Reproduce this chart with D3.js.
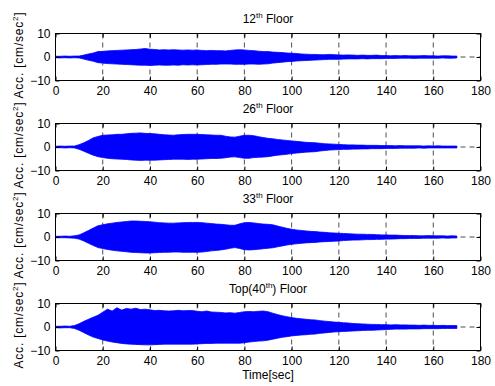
<!DOCTYPE html>
<html><head><meta charset="utf-8">
<script src="https://cdn.jsdelivr.net/npm/d3@7"></script>
<style>
html,body{margin:0;padding:0;background:#fff;}
svg{display:block;font-family:Arial,"Liberation Sans",sans-serif;}
</style></head>
<body>
<svg id="chart" width="495" height="386"></svg>
<script>
// ---- data ----
const time = [0,2,4,6,8,10,12,14,16,18,20,22,24,26,28,30,32,34,36,38,40,42,44,46,48,50,52,54,56,58,60,62,64,66,68,70,72,74,76,78,80,82,84,86,88,90,92,94,96,98,100,102,104,106,108,110,112,114,116,118,120,122,124,126,128,130,132,134,136,138,140,142,144,146,148,150,152,154,156,158,160,162,164,166,168,170];

const up12 = [0.3,0.3,0.4,0.3,0.4,0.4,0.8,1.3,1.7,2.3,2.4,2.6,2.7,2.8,2.9,3.0,3.1,3.2,3.4,3.6,3.3,3.2,3.0,3.1,3.0,3.1,3.0,2.9,3.0,2.9,3.0,2.8,2.7,2.8,2.7,2.7,2.6,2.8,3.0,3.1,3.0,2.8,2.7,2.5,2.3,2.3,2.1,2.0,1.9,1.7,1.6,1.5,1.3,1.2,1.1,1.1,1.0,1.0,1.1,1.0,0.9,0.8,0.9,0.8,0.7,0.8,0.7,0.7,0.8,0.6,0.6,0.5,0.6,0.5,0.6,0.5,0.5,0.5,0.6,0.5,0.5,0.4,0.5,0.5,0.4,0.4];
const lo12 = [-0.3,-0.4,-0.3,-0.4,-0.3,-0.4,-0.9,-1.4,-1.8,-2.4,-2.6,-2.8,-2.9,-3.0,-3.1,-3.2,-3.3,-3.4,-3.5,-3.5,-3.6,-3.5,-3.4,-3.5,-3.5,-3.4,-3.5,-3.3,-3.4,-3.3,-3.4,-3.3,-3.2,-3.1,-3.1,-3.0,-3.0,-3.0,-3.1,-3.1,-3.1,-3.0,-3.0,-3.1,-3.0,-2.9,-2.6,-2.4,-2.2,-2.0,-1.9,-1.7,-1.6,-1.5,-1.4,-1.3,-1.2,-1.1,-1.0,-1.0,-1.0,-0.9,-0.8,-0.8,-0.8,-0.7,-0.8,-0.7,-0.7,-0.7,-0.6,-0.6,-0.6,-0.5,-0.5,-0.5,-0.6,-0.5,-0.5,-0.5,-0.5,-0.5,-0.4,-0.5,-0.5,-0.4];

const up26 = [0.3,0.4,0.3,0.4,0.4,1.0,1.8,2.8,3.9,4.5,5.0,5.1,5.2,5.4,5.4,5.6,5.8,5.9,6.0,5.8,5.7,5.6,5.4,5.2,5.1,5.0,5.2,5.3,5.4,5.4,5.4,5.3,5.2,5.1,5.0,5.0,4.6,4.3,4.2,4.6,5.0,5.0,4.8,4.4,4.0,3.7,3.5,3.2,3.0,2.8,2.6,2.4,2.2,2.0,1.9,1.8,1.6,1.4,1.3,1.2,1.1,1.0,0.9,0.9,0.8,0.8,0.7,0.7,0.7,0.6,0.6,0.6,0.5,0.6,0.5,0.5,0.5,0.5,0.4,0.5,0.4,0.5,0.4,0.4,0.4,0.4];
const lo26 = [-0.3,-0.3,-0.4,-0.3,-0.4,-1.0,-1.8,-2.7,-3.5,-4.1,-4.5,-4.8,-5.0,-5.1,-5.2,-5.3,-5.5,-5.6,-5.7,-5.6,-5.6,-5.6,-5.5,-5.4,-5.3,-5.2,-5.2,-5.2,-5.3,-5.2,-5.2,-5.1,-5.0,-4.9,-4.9,-4.8,-4.6,-4.3,-4.2,-4.5,-4.8,-4.8,-4.5,-4.4,-4.3,-4.1,-3.8,-3.5,-3.3,-3.1,-2.8,-2.6,-2.4,-2.2,-2.1,-2.0,-1.7,-1.5,-1.3,-1.2,-1.1,-1.0,-1.0,-0.9,-0.9,-0.8,-0.8,-0.7,-0.7,-0.7,-0.6,-0.6,-0.6,-0.5,-0.5,-0.5,-0.5,-0.4,-0.5,-0.4,-0.4,-0.4,-0.4,-0.4,-0.4,-0.4];

const up33 = [0.3,0.3,0.4,0.3,0.5,0.9,1.8,2.8,3.8,4.8,5.2,5.6,5.9,6.2,6.4,6.6,6.8,6.8,6.7,6.6,6.5,6.3,6.1,6.0,5.9,5.9,6.0,6.1,6.2,6.2,6.2,6.1,5.9,5.7,5.5,5.4,5.2,5.0,5.0,5.6,6.1,6.2,6.0,5.7,5.5,5.4,5.2,4.7,4.2,3.7,3.3,3.0,2.8,2.6,2.4,2.3,2.1,2.0,1.8,1.7,1.6,1.5,1.4,1.3,1.2,1.2,1.1,1.1,1.0,0.9,0.9,0.8,0.8,0.7,0.6,0.6,0.6,0.5,0.5,0.6,0.5,0.5,0.5,0.4,0.5,0.4];
const lo33 = [-0.3,-0.3,-0.3,-0.4,-0.5,-0.9,-1.7,-2.7,-3.6,-4.5,-4.9,-5.3,-5.6,-5.9,-6.1,-6.3,-6.5,-6.6,-6.7,-6.8,-6.8,-6.7,-6.6,-6.5,-6.5,-6.4,-6.4,-6.5,-6.5,-6.5,-6.5,-6.4,-6.2,-5.9,-5.7,-5.5,-5.2,-4.8,-4.5,-4.9,-5.4,-5.5,-5.4,-5.2,-5.0,-4.8,-4.6,-4.2,-3.8,-3.4,-3.1,-2.9,-2.7,-2.5,-2.4,-2.3,-2.1,-2.0,-1.9,-1.8,-1.7,-1.5,-1.4,-1.3,-1.3,-1.2,-1.1,-1.1,-1.0,-1.0,-0.9,-0.9,-0.8,-0.7,-0.7,-0.6,-0.6,-0.6,-0.5,-0.5,-0.5,-0.5,-0.4,-0.5,-0.4,-0.4];

const up40 = [0.3,0.3,0.4,0.3,0.6,1.4,2.4,3.3,4.2,5.0,6.3,7.6,6.8,8.2,7.2,7.9,7.6,8.0,7.4,7.6,7.3,7.0,7.1,6.9,6.8,6.9,7.1,6.9,7.0,7.0,6.7,6.5,6.8,6.4,6.3,6.2,6.0,6.1,5.9,6.2,6.5,6.6,6.5,6.7,6.8,6.5,5.9,5.3,4.8,4.4,4.0,3.7,3.5,3.3,3.1,3.0,2.7,2.5,2.3,2.1,2.0,1.8,1.7,1.5,1.4,1.3,1.2,1.1,1.1,1.0,1.0,0.9,1.0,0.9,0.9,0.8,0.8,0.7,0.8,0.7,0.7,0.6,0.7,0.6,0.6,0.6];
const lo40 = [-0.3,-0.4,-0.3,-0.3,-0.6,-1.4,-2.4,-3.4,-4.3,-4.9,-5.5,-6.0,-6.4,-6.7,-7.0,-7.2,-7.3,-7.4,-7.5,-7.6,-7.6,-7.5,-7.4,-7.3,-7.3,-7.3,-7.3,-7.3,-7.3,-7.3,-7.2,-7.1,-7.0,-7.0,-6.9,-6.9,-6.9,-6.9,-6.9,-6.9,-6.7,-6.4,-6.2,-6.0,-5.9,-5.6,-5.2,-4.8,-4.4,-4.1,-3.8,-3.6,-3.4,-3.3,-3.1,-3.0,-2.7,-2.5,-2.3,-2.1,-2.0,-1.9,-1.8,-1.7,-1.6,-1.5,-1.4,-1.4,-1.3,-1.2,-1.1,-1.0,-0.9,-0.9,-0.9,-0.8,-0.8,-0.8,-0.7,-0.7,-0.7,-0.7,-0.6,-0.6,-0.6,-0.6];

const titleMain = ["12", "26", "33", "Top(40"];
const titleTail = [" Floor", " Floor", " Floor", ") Floor"];
const upper = [up12, up26, up33, up40];
const lower = [lo12, lo26, lo33, lo40];
const xTicks = [0,20,40,60,80,100,120,140,160,180];
const yTicks = [-10,0,10];
const xLabel = "Time[sec]";

// ---- layout ----
const svg = d3.select("#chart");
const left = 55.5, right = 480.5;
const tops = [33.5, 123.5, 213.5, 303.5];
const ph = 47;
const x = d3.scaleLinear().domain([0,180]).range([left, right]);
const FONT = 12;

tops.forEach((top, i) => {
  const y = d3.scaleLinear().domain([-10,10]).range([top + ph, top]);
  const g = svg.append("g");

  // grid (below data)
  const grid = g.append("g").attr("stroke", "#222").attr("stroke-width", 0.8)
    .attr("stroke-dasharray", "5,4").attr("fill", "none");
  xTicks.forEach(t => {
    grid.append("line").attr("x1", x(t)).attr("x2", x(t)).attr("y1", top).attr("y2", top + ph);
  });
  yTicks.forEach(v => {
    grid.append("line").attr("x1", left).attr("x2", right).attr("y1", y(v)).attr("y2", y(v));
  });

  // signal envelope
  const data = time.map((t, k) => ({t: t, hi: upper[i][k], lo: lower[i][k]}));
  const area = d3.area().x(d => x(d.t)).y0(d => y(d.lo)).y1(d => y(d.hi)).curve(d3.curveLinear);
  g.append("path").datum(data).attr("d", area)
    .attr("fill", "#0000ff").attr("stroke", "#0000ff").attr("stroke-width", 0.8);

  // axes
  const ax = g.append("g").attr("transform", `translate(0,${top + ph})`)
    .call(d3.axisBottom(x).tickValues(xTicks).tickSize(-4).tickPadding(6).tickFormat(d3.format("d")));
  const axT = g.append("g").attr("transform", `translate(0,${top})`)
    .call(d3.axisTop(x).tickValues(xTicks).tickSize(-4).tickFormat(""));
  const ay = g.append("g").attr("transform", `translate(${left},0)`)
    .call(d3.axisLeft(y).tickValues(yTicks).tickSize(-4).tickPadding(5).tickFormat(d3.format("d")));
  const ayR = g.append("g").attr("transform", `translate(${right},0)`)
    .call(d3.axisRight(y).tickValues(yTicks).tickSize(-4).tickFormat(""));
  [ax, axT, ay, ayR].forEach(a => {
    a.select(".domain").remove();
    a.selectAll("line").attr("stroke", "#000");
    a.selectAll("text").attr("font-size", FONT).attr("fill", "#000")
      .attr("font-family", "Arial, 'Liberation Sans', sans-serif");
  });

  // box
  g.append("rect").attr("x", left).attr("y", top).attr("width", right - left).attr("height", ph)
    .attr("fill", "none").attr("stroke", "#000").attr("stroke-width", 1);

  // title
  const tt = g.append("text").attr("x", (left + right) / 2).attr("y", top - 11)
    .attr("text-anchor", "middle").attr("font-size", FONT).attr("fill", "#000");
  tt.append("tspan").text(titleMain[i]);
  tt.append("tspan").attr("dy", -5).attr("font-size", 8).text("th");
  tt.append("tspan").attr("dy", 5).text(titleTail[i]);

  // y label
  const yl = g.append("text")
    .attr("transform", `translate(23,${top + ph / 2 - 2}) rotate(-90)`)
    .attr("text-anchor", "middle").attr("font-size", FONT).attr("fill", "#000")
    .attr("letter-spacing", "0.8px");
  yl.append("tspan").text("Acc. [cm/sec");
  yl.append("tspan").attr("dy", -5).attr("font-size", 8).text("2");
  yl.append("tspan").attr("dy", 5).text("]");
});

svg.append("text").attr("x", (left + right) / 2).attr("y", 379)
  .attr("text-anchor", "middle").attr("font-size", FONT).attr("fill", "#000").text(xLabel);
</script>
</body></html>
